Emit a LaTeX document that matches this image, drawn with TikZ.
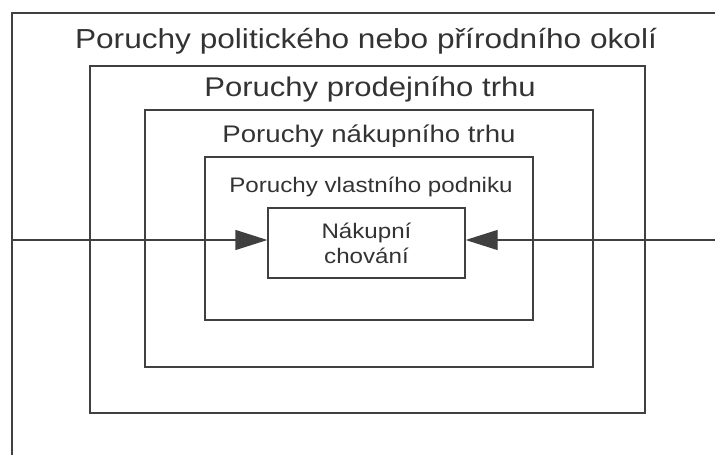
\documentclass[tikz,border=0pt]{standalone}
\usepackage{fontspec}
\setmainfont[FakeStretch=1.15]{Liberation Sans}
\usepackage{tikz}
\usetikzlibrary{arrows.meta, positioning}

\begin{document}
\begin{tikzpicture}[
    x=1pt, y=-1pt,
    frame/.style={rectangle, draw=black!75, line width=1.3pt, inner sep=0pt},
    caption/.style={inner sep=0pt, anchor=base, text=black!80},
    arrow/.style={-{Triangle[length=32pt, width=20pt]}, line width=1.3pt, draw=black!75, fill=black!75}
]
\useasboundingbox (0,0) rectangle (715,455);

% Outer frame (cut by the page edge)
\coordinate (tr) at (715,13);
\coordinate (tl) at (12,13);
\coordinate (bl) at (12,455);
\draw [draw=black!75, line width=1.3pt] (tr) -- (tl) -- (bl);

% Nested frames
\node (prodej) [frame, minimum width=555pt, minimum height=347pt] at (367.5,239.5) {};
\node (nakup) [frame, minimum width=448pt, minimum height=257pt] at (369,238.5) {};
\node (podnik) [frame, minimum width=328pt, minimum height=163pt] at (369,238.5) {};
\node (kupni) [frame, minimum width=197pt, minimum height=70pt, align=center,
    font=\fontsize{21}{25}\selectfont, text=black!80] at (366.5,243) {Nákupní\\chování};

% Captions
\node (okoliT) [caption, font=\fontsize{27.5}{30}\selectfont] at (366,48) {Poruchy politického nebo přírodního okolí};
\node (prodejT) [caption, font=\fontsize{27}{30}\selectfont] at (370,96) {Poruchy prodejního trhu};
\node (nakupT) [caption, font=\fontsize{24}{27}\selectfont] at (369,142) {Poruchy nákupního trhu};
\node (podnikT) [caption, font=\fontsize{21}{24}\selectfont] at (371,192) {Poruchy vlastního podniku};

% Arrows
\coordinate (vstup) at (12,240);
\coordinate (vystup) at (715,240);
\draw [arrow] (vstup) -- (vstup -| kupni.west);
\draw [arrow] (vystup) -- (vystup -| kupni.east);
\end{tikzpicture}
\end{document}
